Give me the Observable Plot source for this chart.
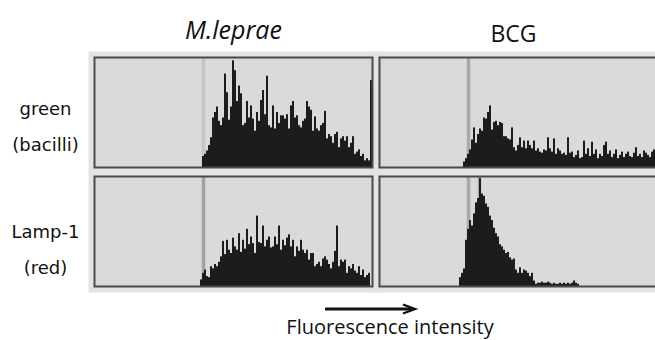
<!DOCTYPE html>
<html><head><meta charset="utf-8">
<script src="https://cdn.jsdelivr.net/npm/d3@7"></script>
<script src="https://cdn.jsdelivr.net/npm/@observablehq/plot@0.6"></script>
<style>
html,body{margin:0;padding:0;background:#fff;width:655px;height:340px;overflow:hidden;}
#chart{width:665px;height:297px;overflow:hidden;}
#foot{position:relative;width:655px;height:43px;font-family:"Open Sans",sans-serif;}
#caption{position:absolute;left:0;width:780px;top:16px;text-align:center;font-size:20px;color:#111;white-space:nowrap;}
#arrow{position:absolute;left:320px;top:6px;}
</style>
</head><body>
<div id="chart"></div>
<div id="foot">
<svg id="arrow" width="100" height="12"><line x1="5" y1="6" x2="92" y2="6" stroke="#111" stroke-width="2.8"/><path d="M83,1.5 L95,6 L83,10.5" fill="none" stroke="#111" stroke-width="2.4"/></svg>
<div id="caption">Fluorescence intensity</div>
</div>
<script>
const organisms = ["M.leprae", "BCG"];
const stains = ["green", "Lamp-1"];
const rowLabels = ["green\n(bacilli)", "Lamp-1\n(red)"];

// histogram channel (bin) of the first value and the counts (% of panel height)
const lepraeGreenStart = 54;
const lepraeGreen = [10,12,15,20,27,45,50,55,42,38,45,85,68,43,55,97,88,60,74,67,38,40,60,45,56,44,33,50,42,61,70,48,83,38,36,56,35,50,40,47,47,44,48,35,56,60,45,47,38,36,42,44,60,55,52,33,46,35,33,38,40,51,26,30,28,22,30,32,18,26,28,24,28,18,22,28,12,14,16,10,12,6,8,6,79];
const bcgGreenStart = 42;
const bcgGreen = [5,8,12,16,25,36,22,30,35,33,45,44,50,56,34,41,42,38,41,40,28,28,26,25,36,18,15,20,27,18,24,17,24,20,17,24,15,17,14,13,16,15,27,17,14,26,12,17,15,12,13,11,27,13,14,9,11,15,8,9,24,12,17,10,23,12,16,8,12,10,20,23,12,15,9,12,16,8,11,14,9,12,14,10,9,13,18,10,12,9,15,13,11,9,14,16,15,12];
const lepraeLampStart = 53;
const lepraeLamp = [6,12,15,9,8,18,16,20,18,22,27,41,29,42,33,30,44,36,33,48,31,42,34,52,38,45,39,30,64,40,39,55,36,42,45,35,36,45,38,55,33,42,37,44,47,36,42,27,36,32,42,33,30,33,24,30,30,18,20,22,18,25,27,24,20,16,22,32,55,18,24,22,24,12,18,16,20,14,12,18,10,15,8,10,12];
const bcgLampStart = 40;
const bcgLamp = [8,12,16,42,52,60,55,66,76,80,98,84,82,75,72,64,60,53,48,45,38,36,33,30,31,26,24,25,15,12,17,12,15,14,12,9,12,5,2,3,3,4,3,3,4,3,2,3,2,2,3,2,3,2,3,2,3,5,3,2];
// gate marker channels
const markerOrg = ["M.leprae", "BCG", "M.leprae", "BCG", "BCG"];
const markerStain = ["green", "green", "Lamp-1", "Lamp-1", "Lamp-1"];
const markerBin = [54.5, 44.5, 54.5, 44.5, 50];
const markerOpacity = [0.35, 0.8, 0.9, 0.8, 0.8];

const series = [
  ["M.leprae", "green", lepraeGreenStart, lepraeGreen],
  ["BCG", "green", bcgGreenStart, bcgGreen],
  ["M.leprae", "Lamp-1", lepraeLampStart, lepraeLamp],
  ["BCG", "Lamp-1", bcgLampStart, bcgLamp]
];
const rows = [];
for (const [org, stain, start, vals] of series) vals.forEach((v, i) => rows.push({org, stain, bin: start + i, v}));
const markers = markerBin.map((b, i) => ({org: markerOrg[i], stain: markerStain[i], bin: b, o: markerOpacity[i]}));
const labels = stains.map((s, i) => ({stain: s, text: rowLabels[i]}));

const plot = Plot.plot({
  width: 665, height: 297,
  marginLeft: 94, marginRight: 8, marginTop: 57, marginBottom: 10,
  x: {domain: [0, 139], axis: null},
  y: {domain: [0, 100], axis: null},
  fx: {domain: organisms, axis: null, paddingInner: 7 / 285, paddingOuter: 0},
  fy: {domain: stains, axis: null, paddingInner: 9 / 119.5, paddingOuter: 0},
  style: {fontFamily: "Open Sans, sans-serif", color: "#111", background: "white", overflow: "visible"},
  marks: [
    Plot.frame({stroke: "#e3e3e3", strokeWidth: 5, inset: -3.5, fill: "#e3e3e3"}),
    Plot.frame({fill: "#dadada"}),
    Plot.ruleX(markers, {x: "bin", fx: "org", fy: "stain", stroke: "#9c9c9c", strokeWidth: 3.5, strokeOpacity: "o"}),
    Plot.rectY(rows, {x1: "bin", x2: d => d.bin + 1, y: "v", fx: "org", fy: "stain", fill: "#1c1c1c", inset: 0}),
    Plot.frame({stroke: "#4a4a4a", strokeWidth: 2}),
    Plot.text(["M.leprae"], {fx: d => d, fy: () => "green", text: d => d, frameAnchor: "top", lineAnchor: "bottom", dy: -19, fontSize: 25, fontStyle: "italic"}),
    Plot.text(["BCG"], {fx: d => d, fy: () => "green", text: d => d, frameAnchor: "top", lineAnchor: "bottom", dx: -5, dy: -16, fontSize: 23}),
    Plot.text(labels.slice(0, 1), {fx: () => "M.leprae", fy: "stain", text: "text", frameAnchor: "left", textAnchor: "middle", dx: -49, dy: 9, fontSize: 18, lineHeight: 2, fontFamily: "DejaVu Sans, sans-serif"}),
    Plot.text(labels.slice(1), {fx: () => "M.leprae", fy: "stain", text: "text", frameAnchor: "left", textAnchor: "middle", dx: -49, dy: 13, fontSize: 18, lineHeight: 2, fontFamily: "DejaVu Sans, sans-serif"})
  ]
});
plot.style.maxWidth = "none";
document.getElementById("chart").appendChild(plot);
</script>
</body></html>
